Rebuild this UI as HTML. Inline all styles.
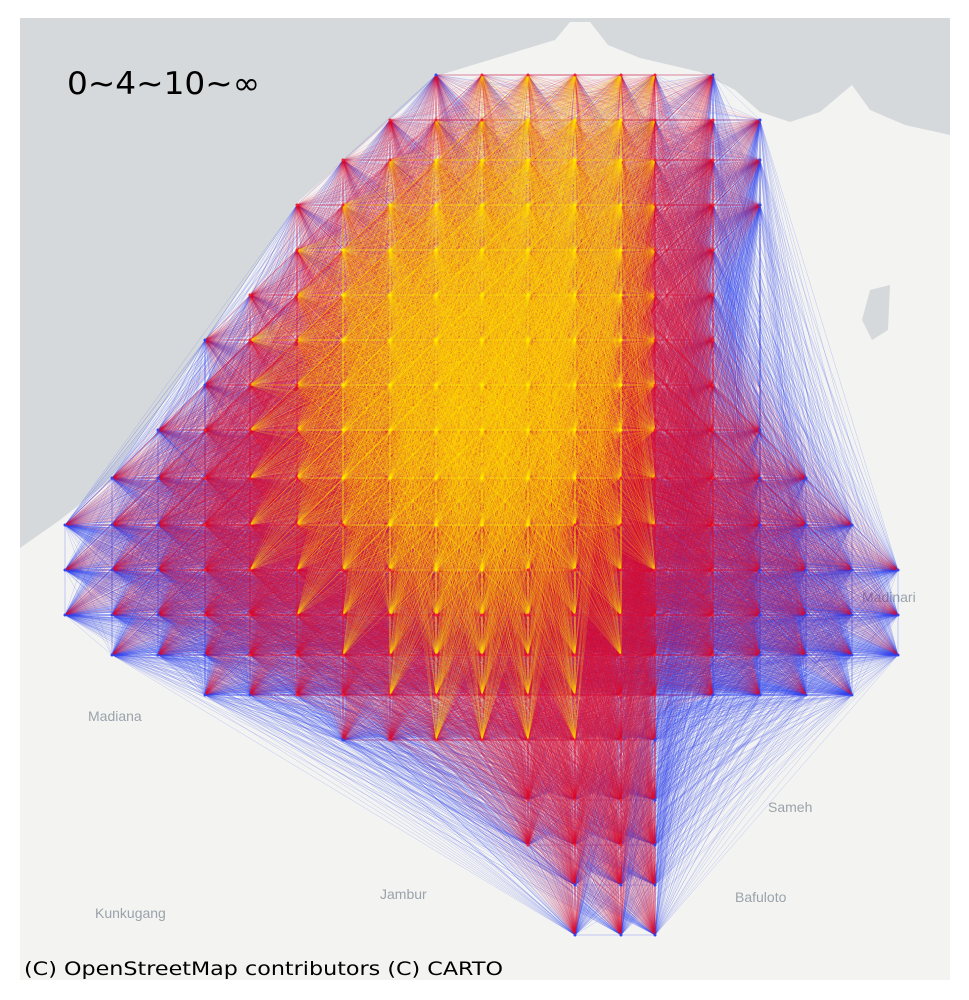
<!DOCTYPE html>
<html><head><meta charset="utf-8">
<style>
html,body{margin:0;padding:0;background:#fff;}
svg{display:block;}
</style></head>
<body>
<svg id="chart" width="969" height="1000" viewBox="0 0 969 1000" xmlns="http://www.w3.org/2000/svg">
  <defs><clipPath id="mapclip"><rect x="20" y="18" width="930" height="962"/></clipPath></defs>
  <g clip-path="url(#mapclip)">
    <rect x="20" y="18" width="930" height="962" fill="#f3f4f2"/>
    <polygon fill="#d5d9db"
      points="20,18 950,18 950,135 905,125 870,110 852,85 820,112 790,122 760,112 735,90 700,72 640,58 608,45 590,22 570,22 555,40 440,75 300,200 200,350 110,480 60,520 20,548"/>
    <polygon fill="#d5d9db" points="870,290 890,285 888,330 872,340 862,320"/>
    <g font-family="Liberation Sans, sans-serif" font-size="14" fill="#9aa2aa">
      <text x="88" y="721">Madiana</text>
      <text x="768" y="812">Sameh</text>
      <text x="380" y="899">Jambur</text>
      <text x="735" y="902">Bafuloto</text>
      <text x="95" y="918">Kunkugang</text>
      <text x="862" y="602">Madinari</text>
    </g>
    <g id="edges"></g>
    <g id="nodes"></g>
  </g>
  <text x="67" y="94" font-family="'DejaVu Sans', 'Liberation Sans', sans-serif" font-size="31" textLength="193" lengthAdjust="spacingAndGlyphs" fill="#000">0~4~10~∞</text>
  <text x="24" y="975" font-family="'DejaVu Sans', 'Liberation Sans', sans-serif" font-size="19" textLength="479" lengthAdjust="spacingAndGlyphs" fill="#000">(C) OpenStreetMap contributors (C) CARTO</text>
</svg>
<script>
// grid column / row coordinates (map positions of node centres)
const colX = [65,112,158,205,250,297,343,390,436,482,528,575,621,655,713,760,806,852,898];
const rowY = [75,120,160,205,250,295,340,385,430,478,525,570,615,655,695,740,800,845,885,935];
// node weights per row ('.' = no node)
const weightRows = [
  "........4677764....",
  ".......567888653...",
  "......5788999753...",
  ".....57899999753...",
  ".....6899999975....",
  "....57899999975....",
  "...467899999875....",
  "...467899999875....",
  "..35678899998754...",
  ".3456788899876543..",
  "234567788887765432.",
  "2345667788776654322",
  "2345566777766554322",
  ".234556677666554321",
  "...345566666554321.",
  "......45666654.....",
  "..........5554.....",
  "..........5554.....",
  "...........444.....",
  "...........444....."
];
const thresholds = [10, 15];  // sum of weights: <10 blue, <15 red, else yellow
const edgeColors = ["#3344ee", "#dd1133", "#ffdd00"];

const nodes = [];
weightRows.forEach((row, r) => {
  for (let c = 0; c < row.length; c++) {
    if (row[c] !== '.') nodes.push({x: colX[c], y: rowY[r], w: +row[c]});
  }
});
const groups = [[], [], []];
for (let i = 0; i < nodes.length; i++) {
  for (let j = i + 1; j < nodes.length; j++) {
    const s = nodes[i].w + nodes[j].w;
    const k = s < thresholds[0] ? 0 : (s < thresholds[1] ? 1 : 2);
    groups[k].push(`M${nodes[i].x} ${nodes[i].y}L${nodes[j].x} ${nodes[j].y}`);
  }
}
const ns = "http://www.w3.org/2000/svg";
const eg = document.getElementById('edges');
const ops = [0.28, 0.2, 0.3];
const names = ['edges-low', 'edges-mid', 'edges-high'];
groups.forEach((g, k) => {
  const p = document.createElementNS(ns, 'path');
  p.setAttribute('d', g.join(''));
  p.setAttribute('stroke', edgeColors[k]);
  p.setAttribute('stroke-opacity', ops[k]);
  p.setAttribute('stroke-width', '0.5');
  p.setAttribute('fill', 'none');
  
  
  eg.appendChild(p);
});
const ng = document.getElementById('nodes');
nodes.forEach(n => {
  const c = document.createElementNS(ns, 'circle');
  c.setAttribute('cx', n.x); c.setAttribute('cy', n.y); c.setAttribute('r', 1.5);
  c.setAttribute('fill', n.w >= 8 ? '#ffee00' : (n.w >= 5 ? '#ee2233' : '#3344ee'));
  
  
  ng.appendChild(c);
});
</script>
</body></html>
